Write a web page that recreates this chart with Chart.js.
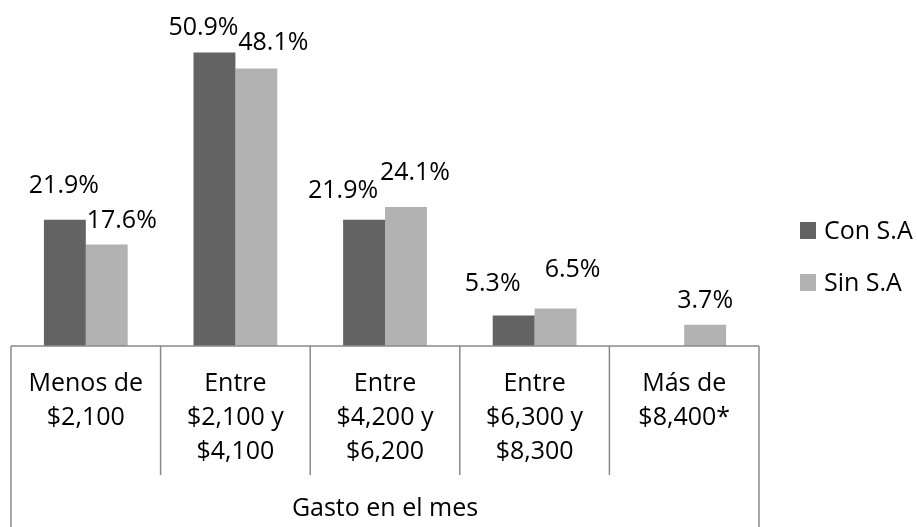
<!DOCTYPE html>
<html>
<head>
<meta charset="utf-8">
<script src="https://cdn.jsdelivr.net/npm/chart.js@4/dist/chart.umd.min.js"></script>
<style>
  html, body { margin: 0; padding: 0; background: #ffffff; }
  #wrap { width: 917px; height: 527px; }
</style>
</head>
<body>
<div id="wrap"><canvas id="c" width="917" height="527"></canvas></div>
<script>
// ---- data ----
const categories = [
  ["Menos de", "$2,100"],
  ["Entre", "$2,100 y", "$4,100"],
  ["Entre", "$4,200 y", "$6,200"],
  ["Entre", "$6,300 y", "$8,300"],
  ["Más de", "$8,400*"]
];
const seriesNames = ["Con S.A", "Sin S.A"];
const conSA = [21.9, 50.9, 21.9, 5.3, null];
const sinSA = [17.6, 48.1, 24.1, 6.5, 3.7];
const axisTitle = "Gasto en el mes";

// ---- styling ----
const FONT = '"Open Sans", "Liberation Sans", sans-serif';
const COLORS = ["#636363", "#b2b2b2"];
const LINE_COLOR = "#8a8a8a";
// small label nudges (Excel-style overlap avoidance), [dx, dy] per dataset/point
const labelNudge = [
  [[-1, -10], [-11, 0], [-21, -5], [-21, -7], [0, 0]],
  [[15, 0], [17, -2], [9, -10], [17, -15], [0, 0]]
];

const labelPlugin = {
  id: 'valueLabels',
  afterDatasetsDraw(chart) {
    const ctx = chart.ctx;
    ctx.save();
    ctx.font = '25px ' + FONT;
    ctx.fillStyle = '#000';
    ctx.textAlign = 'center';
    ctx.textBaseline = 'alphabetic';
    chart.data.datasets.forEach((ds, di) => {
      const meta = chart.getDatasetMeta(di);
      meta.data.forEach((el, i) => {
        const v = ds.data[i];
        if (v === null || v === undefined) return;
        const n = labelNudge[di][i];
        ctx.fillText(v.toFixed(1) + '%', el.x + n[0], el.y - 17 + n[1]);
      });
    });
    ctx.restore();
  }
};

const framePlugin = {
  id: 'frame',
  afterDraw(chart) {
    const ctx = chart.ctx;
    const a = chart.chartArea;
    const n = categories.length;
    const w = (a.right - a.left) / n;
    ctx.save();
    ctx.strokeStyle = LINE_COLOR;
    ctx.lineWidth = 1.5;
    ctx.beginPath();
    ctx.moveTo(a.left, a.bottom);
    ctx.lineTo(a.right, a.bottom);
    for (let i = 0; i <= n; i++) {
      const x = a.left + i * w;
      ctx.moveTo(x, a.bottom);
      ctx.lineTo(x, (i === 0 || i === n) ? chart.height : a.bottom + 129);
    }
    ctx.stroke();
    // axis group title
    ctx.font = '25px ' + FONT;
    ctx.fillStyle = '#000';
    ctx.textAlign = 'center';
    ctx.textBaseline = 'alphabetic';
    ctx.fillText(axisTitle, (a.left + a.right) / 2, 516);
    // legend
    chart.data.datasets.forEach((ds, di) => {
      const y = 222 + di * 52;
      ctx.fillStyle = ds.backgroundColor;
      ctx.fillRect(800, y, 16, 17);
      ctx.fillStyle = '#000';
      ctx.textAlign = 'left';
      ctx.fillText(ds.label, 824, y + 17);
    });
    ctx.restore();
  }
};

function build() {
  new Chart(document.getElementById('c'), {
    type: 'bar',
    data: {
      labels: categories,
      datasets: [
        { label: seriesNames[0], data: conSA, backgroundColor: COLORS[0], categoryPercentage: 0.56, barPercentage: 1.0 },
        { label: seriesNames[1], data: sinSA, backgroundColor: COLORS[1], categoryPercentage: 0.56, barPercentage: 1.0 }
      ]
    },
    options: {
      responsive: false,
      animation: false,
      layout: { padding: { left: 11, right: 158, top: 0, bottom: 0 } },
      plugins: { legend: { display: false }, tooltip: { enabled: false } },
      scales: {
        y: { display: false, min: 0, max: 60 },
        x: {
          grid: { display: false, drawTicks: false },
          border: { display: false },
          ticks: {
            color: '#000',
            font: { family: FONT, size: 25, lineHeight: 1.36 },
            padding: 21,
            maxRotation: 0,
            autoSkip: false
          },
          afterFit(scale) { scale.height = 181; }
        }
      }
    },
    plugins: [labelPlugin, framePlugin]
  });
}
if (document.fonts && document.fonts.load) {
  document.fonts.load('25px "Open Sans"').then(build, build);
} else { build(); }
</script>
</body>
</html>
